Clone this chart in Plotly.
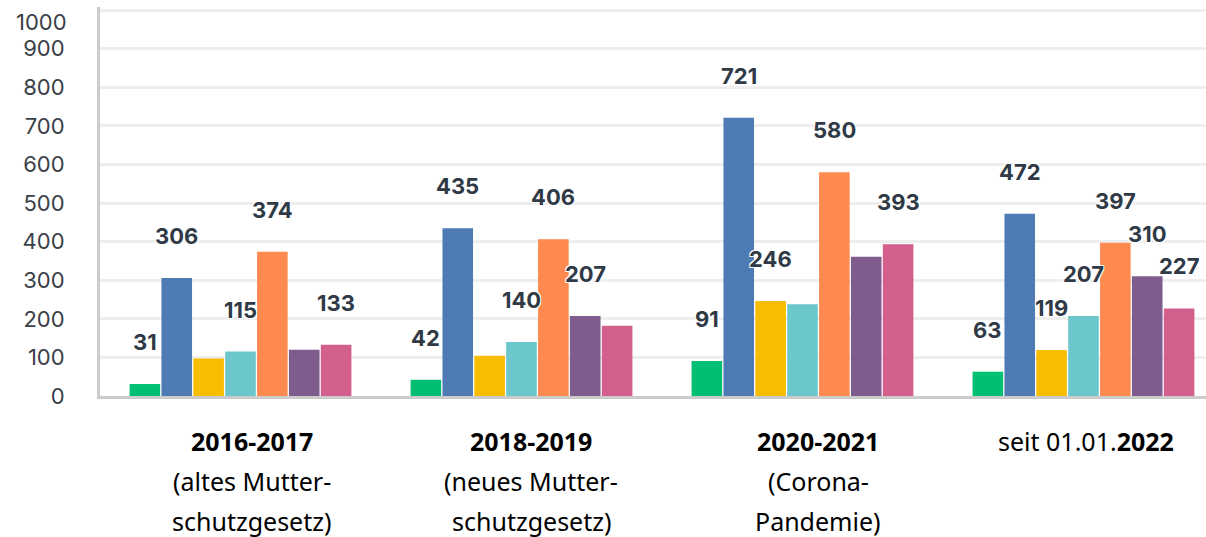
import plotly.graph_objects as go

categories = ["2016-2017", "2018-2019", "2020-2021", "seit 01.01.2022"]
cat_lines = [
    ["<b>2016-2017</b>", "(altes Mutter-", "schutzgesetz)"],
    ["<b>2018-2019</b>", "(neues Mutter-", "schutzgesetz)"],
    ["<b>2020-2021</b>", "(Corona-", "Pandemie)"],
    ["seit 01.01.<b>2022</b>"],
]
cat_xshift = [11, 10, 16, 3]

series_colors = ["#00bf72", "#4f7bb4", "#f7bd00", "#6bc7cb", "#fe8a4f", "#7e5d8e", "#d35f8d"]
series_values = [
    [31, 42, 91, 63],
    [306, 435, 721, 472],
    [97, 104, 246, 119],
    [115, 140, 238, 207],
    [374, 406, 580, 397],
    [120, 207, 361, 310],
    [133, 182, 393, 227],
]
# which labels are visible in the reference (others hidden)
label_visible = [
    [1, 1, 1, 1],
    [1, 1, 1, 1],
    [0, 0, 1, 1],
    [1, 1, 0, 1],
    [1, 1, 1, 1],
    [0, 1, 0, 1],
    [1, 0, 1, 1],
]
y_ticks = [0, 100, 200, 300, 400, 500, 600, 700, 800, 900]

W, H = 1206, 537
ML, MR, MT, MB = 100, 0, 7, 141
BARGAP = 0.206
X_RANGE = [-0.5, 3.436]
Y_RANGE = [0, 1008]

fig = go.Figure()
for i, (vals, col) in enumerate(zip(series_values, series_colors)):
    fig.add_trace(go.Bar(
        x=categories, y=vals, marker_color=col, marker_line_width=0,
        showlegend=False, hoverinfo="y",
    ))

# data labels positioned via bar slot width
plot_w = W - ML - MR
cat_px = plot_w / (X_RANGE[1] - X_RANGE[0])
n = len(series_values)
slot = cat_px * (1 - BARGAP) / n
annotations = []
for i, vals in enumerate(series_values):
    for j, v in enumerate(vals):
        if not label_visible[i][j]:
            continue
        annotations.append(dict(
            x=j, y=v, xref="x", yref="y",
            xshift=(i - (n - 1) / 2) * slot, yshift=42,
            text=f"<b>{v}</b>", showarrow=False,
            font=dict(family="Inter", size=22, color="#2f3a46",
                      shadow="1px 1px 0 #fff, -1px -1px 0 #fff, 1px -1px 0 #fff, -1px 1px 0 #fff"),
            xanchor="center", yanchor="middle",
        ))

# category labels
for j, lines in enumerate(cat_lines):
    for k, line in enumerate(lines):
        annotations.append(dict(
            x=j, xref="x", y=0, yref="paper",
            xshift=cat_xshift[j], yshift=-45 - 40 * k,
            text=line, showarrow=False,
            font=dict(family="Noto Sans", size=25, color="#000000"),
            xanchor="center", yanchor="middle",
        ))

# top tick label (drawn slightly lower as in reference)
annotations.append(dict(
    x=0, xref="paper", y=1000, yref="y", xshift=-31, yshift=-12,
    text="1000", showarrow=False, xanchor="right", yanchor="middle",
    font=dict(family="Inter", size=22, color="#3a4048"),
))

fig.update_layout(
    width=W, height=H,
    margin=dict(l=ML, r=MR, t=MT, b=MB, autoexpand=False),
    paper_bgcolor="white", plot_bgcolor="white",
    barmode="group", bargap=BARGAP, bargroupgap=0.04,
    annotations=annotations,
    xaxis=dict(
        type="category", range=X_RANGE, showticklabels=False,
        showline=True, linecolor="#cccccc", linewidth=3,
        showgrid=False, zeroline=False, fixedrange=True, automargin=False,
    ),
    yaxis=dict(
        range=Y_RANGE, tickmode="array", tickvals=y_ticks + [1000],
        ticktext=[str(t) for t in y_ticks] + [""],
        showline=True, linecolor="#cccccc", linewidth=3,
        showgrid=True, gridcolor="#eeeeee", gridwidth=3,
        zeroline=False, ticklabelstandoff=28, automargin=False,
        tickfont=dict(family="Inter", size=22, color="#3a4048"),
        fixedrange=True,
    ),
)

fig.write_html(
    "out.html",
    config={"displayModeBar": False},
    post_script="document.body.style.margin='0';document.body.style.overflow='hidden';",
)
